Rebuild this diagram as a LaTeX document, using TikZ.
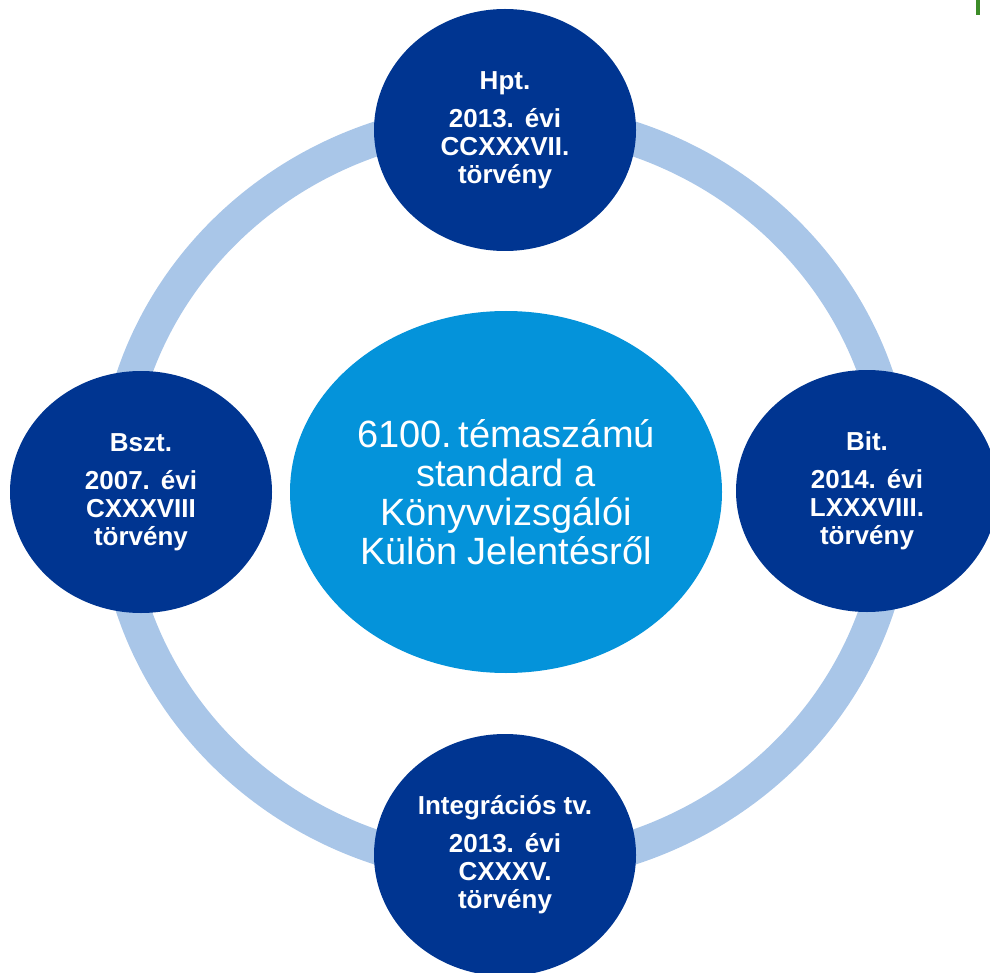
\documentclass[tikz,border=0pt]{standalone}
\usepackage{fontspec}
\setmainfont{Liberation Sans}
\usetikzlibrary{shapes.geometric}
\definecolor{navy}{RGB}{0,53,145}
\definecolor{ringblue}{RGB}{169,198,232}
\definecolor{centerblue}{RGB}{4,147,218}
\definecolor{markgreen}{RGB}{60,140,40}
\newcommand{\yrgap}{\hspace{11pt}}
\begin{document}
\begin{tikzpicture}[x=1pt,y=-1pt,
  lawnode/.style={ellipse, fill=navy, text=white, minimum width=262pt, minimum height=242pt, inner sep=0pt, align=center, font=\fontsize{26}{28}\selectfont\bfseries},
  hubnode/.style={ellipse, fill=centerblue, text=white, minimum width=432pt, minimum height=362pt, inner sep=0pt, align=center, font=\fontsize{38}{39}\selectfont},
  ringline/.style={draw=ringblue, line width=34pt}]
\useasboundingbox (0,0) rectangle (990,973);
\clip (0,0) rectangle (990,973);
\coordinate (ringc) at (505,493);
\draw[ringline] (ringc) ellipse [x radius=391pt, y radius=375pt];
\node[hubnode] (hub) at (506,492) {6100.\,témaszámú\\standard a\\Könyvvizsgálói\\Külön Jelentésről};
\node[lawnode] (hpt) at (505,130) {Hpt.\\[10pt]2013.\yrgap évi\\CCXXXVII.\\törvény};
\node[lawnode] (bszt) at (141,492) {Bszt.\\[10pt]2007.\yrgap évi\\CXXXVIII\\törvény};
\node[lawnode] (bit) at (867,491) {Bit.\\[10pt]2014.\yrgap évi\\LXXXVIII.\\törvény};
\node[lawnode] (integr) at (505,855) {Integrációs tv.\\[10pt]2013.\yrgap évi\\CXXXV.\\törvény};
\fill[markgreen] (976,0) rectangle (980,15);
\end{tikzpicture}
\end{document}
